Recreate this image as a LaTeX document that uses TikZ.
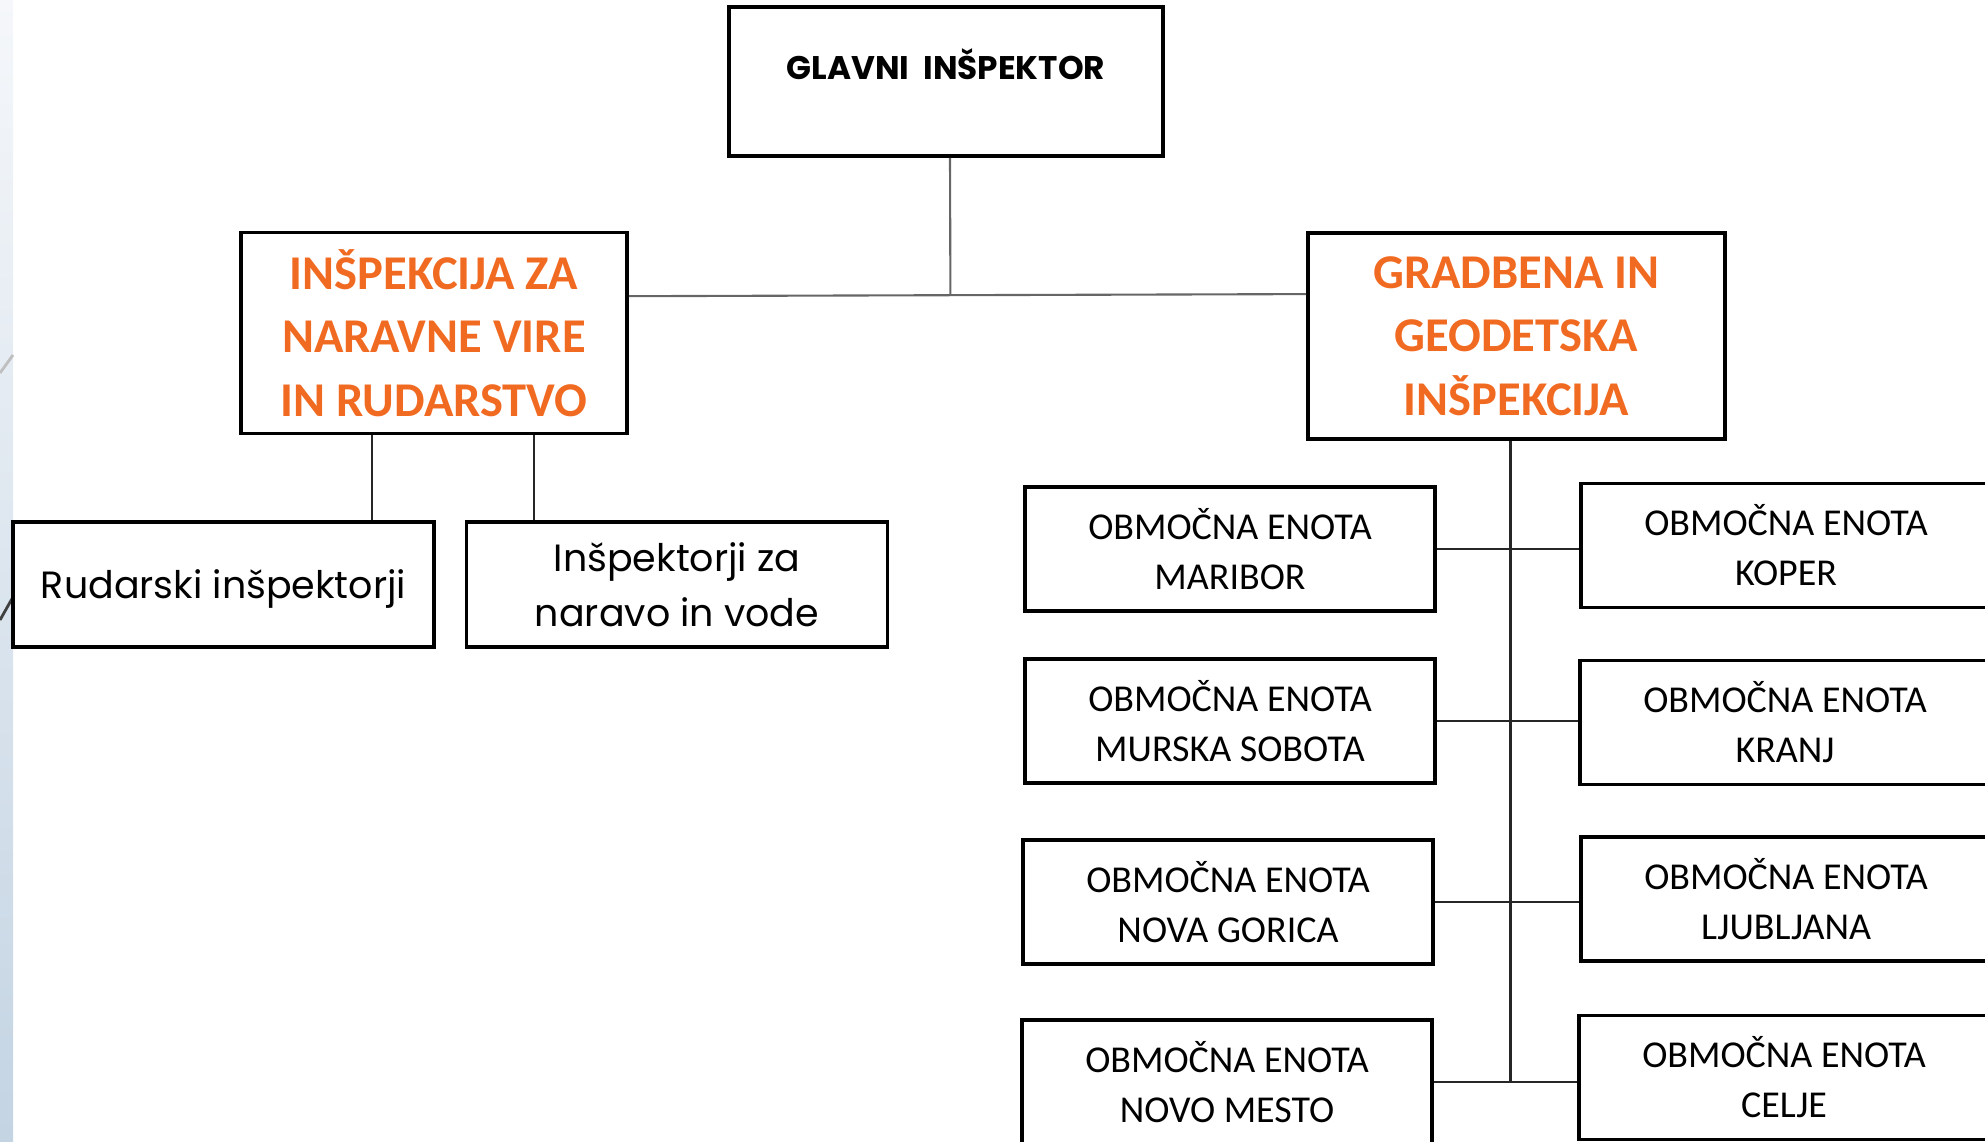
\documentclass[tikz,border=0pt]{standalone}
\usepackage{fontspec}
\setmainfont{Carlito}
\newfontfamily\geofont{Poppins}
\usetikzlibrary{calc}
\definecolor{headorange}{RGB}{241,106,34}
\definecolor{stripTop}{RGB}{245,247,250}
\definecolor{stripBot}{RGB}{196,212,227}

\begin{document}
\begin{tikzpicture}[x=0.01cm, y=-0.01cm,
  box/.style = {draw, line width=1pt, inner sep=0pt, align=center},
  unit/.style = {box, minimum width=4.1cm, minimum height=1.24cm,
                 font=\fontsize{10.8}{14.2}\selectfont},
  head/.style = {box, text=headorange, font=\fontsize{13.8}{18}\selectfont\bfseries},
  sub/.style = {box, minimum width=4.21cm, minimum height=1.25cm,
                font=\geofont\fontsize{10.8}{15.6}\selectfont},
  link/.style = {line width=0.6pt, black!85},
  toplink/.style = {line width=0.6pt, black!60}]
\useasboundingbox (0,0) rectangle (1985,1141);
\clip (0,0) rectangle (1985,1141);
% strip of the slide background on the left
\shade [top color=stripTop, bottom color=stripBot] (0,0) rectangle (13,1141);
\draw [black!25, line width=0.8pt] (0,373) -- (13,355);
\draw [black!75, line width=0.8pt] (0,620) -- (13,597);

% top
\node [box, minimum width=4.34cm, minimum height=1.49cm, text height=0.3cm, text depth=0.34cm,
       font=\geofont\bfseries\fontsize{9.3}{11}\selectfont] (glavni) at (946,81.5) {GLAVNI~~INŠPEKTOR};

% the two inspectorates
\node [head, minimum width=3.86cm, minimum height=2.01cm] (nat) at (434,333) {INŠPEKCIJA ZA\\NARAVNE VIRE\\IN RUDARSTVO};
\node [head, minimum width=4.17cm, minimum height=2.06cm] (gi) at (1516.5,336) {GRADBENA IN\\GEODETSKA\\INŠPEKCIJA};

% left branch
\node [sub, text depth=0pt] (rud) at (223.5,584.5) {Rudarski inšpektorji};
\node [sub] (inv) at (677,584.5) {Inšpektorji za\\naravo in vode};

% right branch
\node [unit] (maribor) at (1230,549) {OBMOČNA ENOTA\\MARIBOR};
\node [unit] (koper) at (1786,545.5) {OBMOČNA ENOTA\\KOPER};
\node [unit] (murska) at (1230,721) {OBMOČNA ENOTA\\MURSKA SOBOTA};
\node [unit] (kranj) at (1785,722.5) {OBMOČNA ENOTA\\KRANJ};
\node [unit] (novagorica) at (1228,902) {OBMOČNA ENOTA\\NOVA GORICA};
\node [unit] (ljubljana) at (1786,899) {OBMOČNA ENOTA\\LJUBLJANA};
\node [unit] (novomesto) at (1227,1082) {OBMOČNA ENOTA\\NOVO MESTO};
\node [unit] (celje) at (1784,1077.5) {OBMOČNA ENOTA\\CELJE};

% connectors
\coordinate (natj) at ($(nat.north east)!0.32!(nat.south east)$);
\coordinate (gij) at ($(gi.north west)!0.3!(gi.south west)$);
\coordinate (glj) at ($(glavni.south)+(4,0)$);
\draw [toplink] (natj) -- (gij);
\draw [toplink] (glj) -- ($(natj)!(glj)!(gij)$);

\coordinate (natl) at ($(nat.south west)!0.342!(nat.south east)$);
\coordinate (natr) at ($(nat.south west)!0.756!(nat.south east)$);
\draw [link] (natl) -- (natl |- rud.north);
\draw [link] (natr) -- (natr |- inv.north);

\coordinate (trunk) at ($(gi.south)+(-6,0)$);
\draw [link] (trunk) -- (trunk |- novomesto.east);
\foreach \l/\r in {maribor/koper, murska/kranj, novagorica/ljubljana, novomesto/celje}
  \draw [link] (\l.east) -- (\r.west |- \l.east);
\end{tikzpicture}
\end{document}
